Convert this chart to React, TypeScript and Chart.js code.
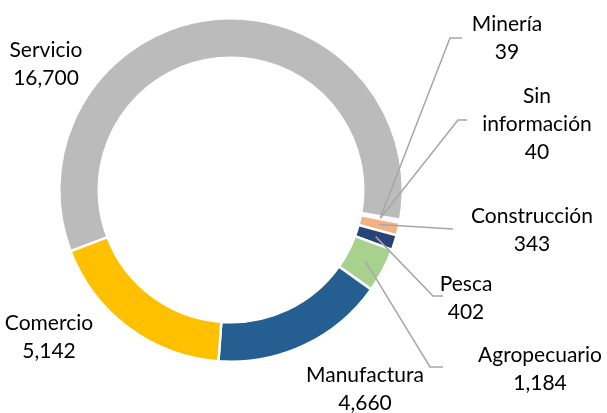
import React, { useEffect, useRef } from "react";
import { Chart, registerables } from "chart.js";
Chart.register(...registerables);

const categories = ["Minería", "Sin información", "Construcción", "Pesca", "Agropecuario", "Manufactura", "Comercio", "Servicio"];
const values = [39, 40, 343, 402, 1184, 4660, 5142, 16700];
const colors = ["#A5A5A5", "#5B9BD5", "#F4B183", "#264478", "#A9D18E", "#255E91", "#FFC000", "#BBBBBB"];
const nameLines = [["Minería"], ["Sin", "información"], ["Construcción"], ["Pesca"], ["Agropecuario"], ["Manufactura"], ["Comercio"], ["Servicio"]];

// label layout: text centre (first line) and optional leader path (canvas px)
const labelLayout = [
  { x: 507, y: 24, path: [[450, 38], [462, 38]] },
  { x: 537, y: 96, path: [[458, 120], [467, 120]] },
  { x: 532, y: 216, path: [[453, 229]] },
  { x: 466, y: 284, path: [[433, 296], [443, 296]] },
  { x: 540, y: 355, path: [[430, 367], [443, 367]] },
  { x: 365, y: 375, path: null },
  { x: 49, y: 323, path: null },
  { x: 46, y: 50, path: null },
];

const FONT = "21px Lato";
const LINE_H = 28;

const fmt = (v: number) => v.toLocaleString("en-US");

const labelsPlugin = {
  id: "outLabels",
  afterDatasetsDraw(chart: any) {
    const ctx = chart.ctx;
    const meta = chart.getDatasetMeta(0);
    ctx.save();
    meta.data.forEach((arc: any, i: number) => {
      const lay = labelLayout[i];
      if (lay.path) {
        const p = arc.getProps(["x", "y", "startAngle", "endAngle", "innerRadius", "outerRadius"], true);
        const mid = (p.startAngle + p.endAngle) / 2;
        const r = (p.innerRadius + p.outerRadius) / 2;
        ctx.beginPath();
        ctx.moveTo(p.x + Math.cos(mid) * r, p.y + Math.sin(mid) * r);
        lay.path.forEach((pt) => ctx.lineTo(pt[0], pt[1]));
        ctx.strokeStyle = "#A6A6A6";
        ctx.lineWidth = 1.5;
        ctx.stroke();
      }
      const lines = [...nameLines[i], fmt(values[i])];
      ctx.font = FONT;
      ctx.fillStyle = "#000000";
      ctx.textAlign = "center";
      ctx.textBaseline = "middle";
      lines.forEach((t, k) => ctx.fillText(t, lay.x, lay.y + k * LINE_H));
    });
    ctx.restore();
  },
};

export default function App() {
  const ref = useRef<HTMLCanvasElement>(null);
  useEffect(() => {
    document.body.style.margin = "0";
    const chart = new Chart(ref.current!, {
      type: "doughnut",
      data: {
        labels: categories,
        datasets: [
          {
            data: values,
            backgroundColor: colors,
            borderColor: "#FFFFFF",
            borderWidth: 2.5,
          },
        ],
      },
      options: {
        animation: false,
        responsive: true,
        maintainAspectRatio: false,
        rotation: 100,
        cutout: "77%",
        layout: { padding: { left: 58, right: 203, top: 16, bottom: 49 } },
        plugins: { legend: { display: false }, tooltip: { enabled: false } },
      },
      plugins: [labelsPlugin],
    });
    return () => chart.destroy();
  }, []);
  return (
    <div style={{ width: 607, height: 413, position: "relative", background: "#fff" }}>
      <canvas ref={ref} />
    </div>
  );
}
